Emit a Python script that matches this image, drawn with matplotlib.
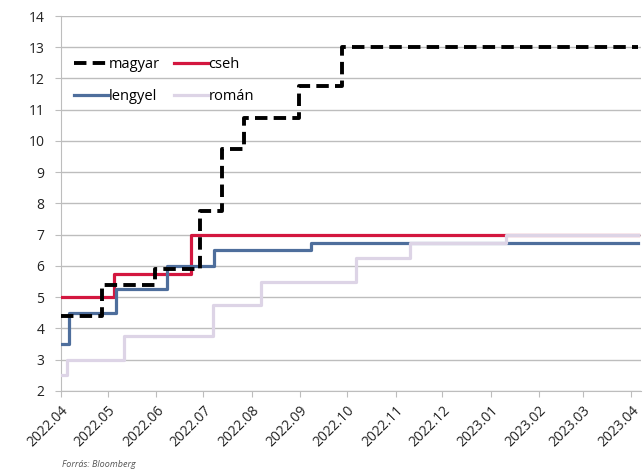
import matplotlib

matplotlib.use("Agg")
import matplotlib.dates as mdates
import matplotlib.pyplot as plt
import numpy as np
import pandas as pd

plt.rcParams["font.family"] = ["Open Sans", "DejaVu Sans"]

# policy rate change dates and new levels (%), stepped forward until end date
end_date = "2023-04-05"

magyar_dates = ["2022-04-01", "2022-04-27", "2022-05-31", "2022-06-29",
                "2022-07-13", "2022-07-27", "2022-08-31", "2022-09-28"]
magyar_rates = [4.4, 5.4, 5.9, 7.75, 9.75, 10.75, 11.75, 13.0]

cseh_dates = ["2022-04-01", "2022-05-05", "2022-06-23"]
cseh_rates = [5.0, 5.75, 7.0]

lengyel_dates = ["2022-04-01", "2022-04-06", "2022-05-06", "2022-06-08",
                 "2022-07-08", "2022-09-08"]
lengyel_rates = [3.5, 4.5, 5.25, 6.0, 6.5, 6.75]

roman_dates = ["2022-04-01", "2022-04-05", "2022-05-11", "2022-07-07",
               "2022-08-07", "2022-10-07", "2022-11-10", "2023-01-11"]
roman_rates = [2.5, 3.0, 3.75, 4.75, 5.5, 6.25, 6.75, 7.0]

tick_months = pd.date_range("2022-04-01", "2023-04-01", freq="MS")


def steps(dates, rates):
    x = list(pd.to_datetime(dates)) + [pd.Timestamp(end_date)]
    y = list(rates) + [rates[-1]]
    return x, y


fig = plt.figure(figsize=(6.44, 4.71), dpi=100)
ax = fig.add_axes([0.095, 0.170, 0.9, 0.796])

ax.step(*steps(cseh_dates, cseh_rates), where="post", color="#D3173F",
        lw=2.3, label="cseh", zorder=3)
ax.step(*steps(lengyel_dates, lengyel_rates), where="post", color="#4E6E9C",
        lw=2.3, label="lengyel", zorder=3)
ax.step(*steps(roman_dates, roman_rates), where="post", color="#DDD4E6",
        lw=2.3, label="román", zorder=3)
ax.step(*steps(magyar_dates, magyar_rates), where="post", color="black",
        lw=2.8, dashes=(3.2, 1.6), label="magyar", zorder=4)

ax.set_ylim(2, 14)
ax.set_yticks(np.arange(2, 15, 1))
ax.set_xlim(pd.Timestamp("2022-04-01"), pd.Timestamp("2023-04-07"))
ax.set_xticks(tick_months)
ax.xaxis.set_major_formatter(mdates.DateFormatter("%Y.%m"))
for lab in ax.get_xticklabels():
    lab.set_rotation(45)
    lab.set_ha("right")
    lab.set_rotation_mode("anchor")

ax.grid(axis="y", color="#BDBDBD", lw=1)
ax.set_axisbelow(True)
for side in ("top", "right"):
    ax.spines[side].set_visible(False)
for side in ("left", "bottom"):
    ax.spines[side].set_color("#BDBDBD")
ax.tick_params(axis="both", colors="#BDBDBD", length=4, labelcolor="#222222",
               labelsize=10)
ax.tick_params(axis="x", pad=5)
ax.tick_params(axis="y", pad=8)

# legend filled row by row: magyar, cseh / lengyel, román
handles, labels = ax.get_legend_handles_labels()
order = [3, 1, 0, 2]
ax.legend([handles[i] for i in order], [labels[i] for i in order],
          loc="upper left", bbox_to_anchor=(0.0, 0.925), ncol=2, frameon=False,
          fontsize=10.5, handlelength=2.3, handletextpad=0.05,
          columnspacing=1.0, labelspacing=1.15)

fig.text(0.096, 0.008, "Forrás: Bloomberg", fontsize=6.5, style="italic",
         color="#555555")

fig.savefig("out.png", dpi=100)
